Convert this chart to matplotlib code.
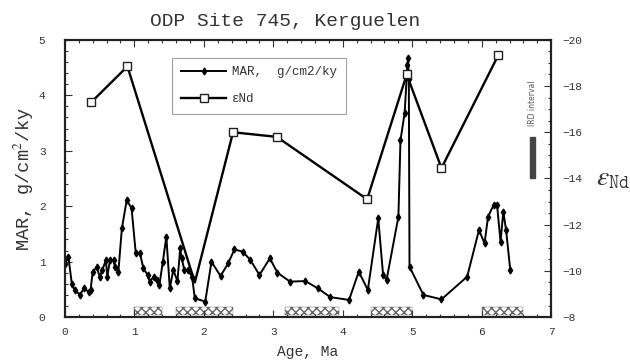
import matplotlib
matplotlib.use('Agg')
import matplotlib.pyplot as plt
from matplotlib.ticker import MultipleLocator
from matplotlib.patches import Rectangle

plt.rcParams['font.family'] = ['Liberation Mono', 'DejaVu Sans']
plt.rcParams['mathtext.fontset'] = 'stix'

# MAR, g/cm2/ky vs age (Ma)
mar_age = [0.00, 0.05, 0.10, 0.14, 0.22, 0.27, 0.34, 0.37, 0.40, 0.46, 0.50, 0.54,
           0.59, 0.61, 0.65, 0.70, 0.72, 0.77, 0.82, 0.89, 0.96, 1.02, 1.08, 1.13,
           1.19, 1.22, 1.28, 1.32, 1.36, 1.41, 1.46, 1.51, 1.56, 1.62, 1.66, 1.68,
           1.72, 1.77, 1.83, 1.87, 2.02, 2.11, 2.24, 2.35, 2.44, 2.56, 2.67, 2.80,
           2.95, 3.06, 3.24, 3.46, 3.64, 3.82, 4.09, 4.23, 4.36, 4.51, 4.58, 4.63,
           4.80, 4.83, 4.89, 4.93, 4.94, 4.95, 4.96, 5.16, 5.42, 5.79, 5.96, 6.04,
           6.09, 6.17, 6.22, 6.27, 6.31, 6.35, 6.41]
mar_val = [0.95, 1.09, 0.60, 0.49, 0.40, 0.52, 0.46, 0.49, 0.82, 0.90, 0.73, 0.85,
           1.03, 0.73, 1.03, 1.03, 0.91, 0.82, 1.60, 2.11, 1.96, 1.15, 1.15, 0.88,
           0.76, 0.64, 0.73, 0.67, 0.58, 1.00, 1.45, 0.52, 0.85, 0.65, 1.24, 1.06,
           0.85, 0.85, 0.73, 0.34, 0.28, 1.00, 0.74, 0.97, 1.22, 1.18, 1.03, 0.76,
           1.06, 0.80, 0.64, 0.65, 0.52, 0.36, 0.31, 0.82, 0.49, 1.78, 0.76, 0.67,
           1.81, 3.19, 3.68, 4.55, 4.67, 4.30, 0.91, 0.40, 0.32, 0.73, 1.57, 1.33,
           1.81, 2.02, 2.02, 1.36, 1.90, 1.57, 0.85]

# eps Nd vs age (Ma)
nd_age = [0.38, 0.90, 1.87, 2.42, 3.05, 4.35, 4.92, 5.42, 6.24]
nd_val = [-17.3, -18.85, -9.5, -16.0, -15.8, -13.1, -18.5, -14.45, -19.35]

# IRD intervals (Ma)
ird_start = [1.0, 1.6, 3.17, 4.4, 6.0]
ird_end = [1.4, 2.42, 3.94, 5.0, 6.6]

fig = plt.figure(figsize=(6.3, 3.62), dpi=100)
ax = fig.add_axes([0.103, 0.124, 0.772, 0.766])
ax2 = ax.twinx()

tc = '#333333'

# IRD hatch boxes
for a, b in zip(ird_start, ird_end):
    ax.add_patch(Rectangle((a, 0.04), b - a, 0.14, facecolor='white',
                           edgecolor='#666666', hatch='xxxx', lw=0.3, zorder=1))

l1, = ax.plot(mar_age, mar_val, '-', color='black', lw=1.4, marker='d', ms=3.5,
              zorder=3)
# no square visible at the bottom of the V
marcas = [i for i in range(len(nd_age)) if i != 2]
l2, = ax2.plot(nd_age, nd_val, '-', color='black', lw=1.7, marker='s', ms=6,
               mfc='white', mec='#222222', mew=1.0, zorder=3, markevery=marcas)

# IRD key on the right
ax.add_patch(Rectangle((6.69, 2.5), 0.07, 0.75, color='#444444', zorder=2))
ax.text(6.73, 3.85, 'IRD interval', rotation=90, fontsize=5.5, ha='center',
        va='center', color='#555555', family=['DejaVu Sans'])

ax.set_xlim(0, 7)
ax.set_ylim(0, 5)
ax2.set_ylim(-8, -20)

ax.xaxis.set_major_locator(MultipleLocator(1))
ax.xaxis.set_minor_locator(MultipleLocator(0.2))
ax.yaxis.set_major_locator(MultipleLocator(1))
ax.yaxis.set_minor_locator(MultipleLocator(0.2))
ax2.yaxis.set_major_locator(MultipleLocator(2))
ax2.yaxis.set_minor_locator(MultipleLocator(0.5))

for a in (ax, ax2):
    a.tick_params(which='both', direction='in', top=True, colors=tc,
                  labelsize=8, width=0.8)
    a.tick_params(which='major', length=5)
    a.tick_params(which='minor', length=2.5)
    for s in a.spines.values():
        s.set_linewidth(1.5)
        s.set_color('#222222')
ax.tick_params(which='both', right=False)
ax2.tick_params(which='both', left=False, pad=8)
ax.tick_params(axis='y', pad=14)
ax.tick_params(axis='x', pad=7)

ax.set_xlabel('Age, Ma', fontsize=10.5, color=tc, labelpad=6)
ax.set_ylabel('MAR, g/cm$^2$/ky', fontsize=13.5, color=tc, labelpad=2)
ax2.set_ylabel(r'$\varepsilon_{\mathtt{Nd}}$', fontsize=20, rotation=0,
               color=tc, labelpad=22, va='center')
fig.text(0.452, 0.94, 'ODP Site 745, Kerguelen', fontsize=14, color=tc,
         ha='center', va='center')

leg = ax.legend([l1, l2], ['MAR,  g/cm2/ky', 'εNd'], loc='upper left',
                bbox_to_anchor=(0.208, 0.958), fontsize=9, frameon=True,
                fancybox=False, edgecolor='#888888', handlelength=3.6,
                borderpad=0.7, labelspacing=1.2, handletextpad=0.5)
leg.get_frame().set_linewidth(0.8)
for t in leg.get_texts():
    t.set_color(tc)

fig.savefig('out.png', dpi=100)
